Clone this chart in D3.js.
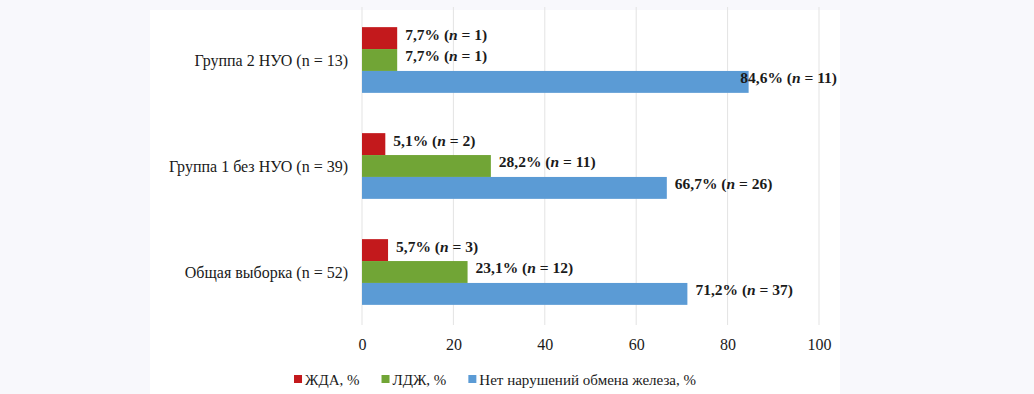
<!DOCTYPE html>
<html>
<head>
<meta charset="utf-8">
<script src="https://cdn.jsdelivr.net/npm/d3@7"></script>
<style>
  html, body { margin: 0; padding: 0; background: #f8f8fc; }
  svg { display: block; font-family: "Liberation Serif", "Times New Roman", serif; }
</style>
</head>
<body>
<div id="chart"></div>
<script>
// categories, top to bottom as in the figure
var categories = ["Группа 2 НУО (n = 13)", "Группа 1 без НУО (n = 39)", "Общая выборка (n = 52)"];
var seriesNames = ["ЖДА, %", "ЛДЖ, %", "Нет нарушений обмена железа, %"];
var seriesColors = ["#c3191c", "#71a536", "#5b9bd5"];

// percentages and counts per category
var idaPct = [7.7, 5.1, 5.7];
var idaN = [1, 2, 3];
var ldjPct = [7.7, 28.2, 23.1];
var ldjN = [1, 11, 12];
var normPct = [84.6, 66.7, 71.2];
var normN = [11, 26, 37];

var xTicks = [0, 20, 40, 60, 80, 100];

var width = 1034, height = 394;

var pct = [idaPct, ldjPct, normPct];
var cnt = [idaN, ldjN, normN];

var rows = [];
categories.forEach(function(c, ci) {
    seriesNames.forEach(function(s, si) {
        rows.push({cat: c, series: s, si: si, value: pct[si][ci], n: cnt[si][ci]});
    });
});

var svg = d3.select('#chart').append('svg')
    .attr('width', width)
    .attr('height', height);

// white panel
svg.append('rect')
    .attr('x', 150).attr('y', 10)
    .attr('width', 690).attr('height', height - 10)
    .attr('fill', '#ffffff');

var x = d3.scaleLinear().domain([0, 100]).range([362, 819]);

var y = d3.scaleBand()
    .domain(categories)
    .range([7, 325])
    .paddingInner(0.38)
    .paddingOuter(0.19);

var yInner = d3.scaleBand()
    .domain(seriesNames)
    .range([0, y.bandwidth()]);

// gridlines
svg.append('g').attr('class', 'grid')
    .selectAll('line')
    .data(xTicks)
    .enter().append('line')
    .attr('x1', function(d) { return x(d); })
    .attr('x2', function(d) { return x(d); })
    .attr('y1', 7)
    .attr('y2', 325)
    .attr('stroke', '#e3e3e3')
    .attr('stroke-width', 1);

// x axis
var xAxis = svg.append('g')
    .attr('transform', 'translate(0,' + 336 + ')')
    .call(d3.axisBottom(x).tickValues(xTicks).tickSize(0).tickPadding(3));
xAxis.select('.domain').remove();
xAxis.selectAll('text')
    .attr('font-family', '"Liberation Serif", "Times New Roman", serif')
    .attr('font-size', 16)
    .attr('fill', '#1a1a1a');

// category labels
svg.append('g')
    .selectAll('text')
    .data(categories)
    .enter().append('text')
    .attr('x', 348)
    .attr('y', function(d) { return y(d) + y.bandwidth() / 2; })
    .attr('dy', '0.35em')
    .attr('text-anchor', 'end')
    .attr('font-size', 16)
    .attr('fill', '#1a1a1a')
    .text(function(d) { return d; });

// bars
svg.append('g')
    .selectAll('rect')
    .data(rows)
    .enter().append('rect')
    .attr('x', x(0))
    .attr('y', function(d) { return y(d.cat) + yInner(d.series); })
    .attr('width', function(d) { return x(d.value) - x(0); })
    .attr('height', yInner.bandwidth())
    .attr('fill', function(d) { return seriesColors[d.si]; });

// value labels
var fmt = function(v) { return v.toFixed(1).replace('.', ','); };
var labelRight = 837;
var labels = svg.append('g')
    .selectAll('text')
    .data(rows)
    .enter().append('text')
    .attr('y', function(d) { return y(d.cat) + yInner(d.series) + yInner.bandwidth() / 2 - 4; })
    .attr('dy', '0.35em')
    .attr('font-size', 15.5)
    .attr('font-weight', 'bold')
    .attr('fill', '#1a1a1a');
labels.append('tspan').text(function(d) { return fmt(d.value) + '% ('; });
labels.append('tspan').attr('font-style', 'italic').text('n');
labels.append('tspan').text(function(d) { return ' = ' + d.n + ')'; });
labels.each(function(d) {
    var w = this.getComputedTextLength();
    var lx = Math.min(x(d.value) + 8, labelRight - w);
    d3.select(this).attr('x', lx);
});

// legend, centered in the panel
var legend = svg.append('g').attr('class', 'legend');
var items = legend.selectAll('g')
    .data(seriesNames)
    .enter().append('g');
items.append('rect')
    .attr('width', 8).attr('height', 8)
    .attr('y', -5)
    .attr('fill', function(d, i) { return seriesColors[i]; });
items.append('text')
    .attr('x', 11)
    .attr('dy', '0.35em')
    .attr('font-size', 15)
    .attr('fill', '#1a1a1a')
    .text(function(d) { return d; });
var offset = 0;
items.each(function() {
    d3.select(this).attr('transform', 'translate(' + offset + ',0)');
    offset += this.getBBox().width + 22;
});
offset -= 22;
legend.attr('transform', 'translate(' + (495 - offset / 2) + ',' + 380 + ')');
</script>
</body>
</html>
